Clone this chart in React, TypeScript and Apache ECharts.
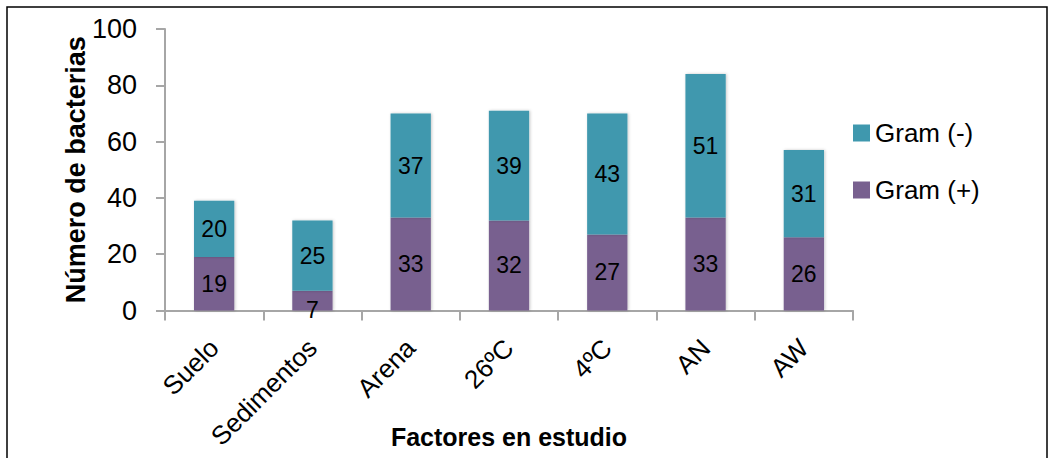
import React, { useEffect, useRef } from "react";
import * as echarts from "echarts";

const categories = ["Suelo", "Sedimentos", "Arena", "26ºC", "4ºC", "AN", "AW"];
const gramPos = [19, 7, 33, 32, 27, 33, 26];
const gramNeg = [20, 25, 37, 39, 43, 51, 31];
const seriesNames = ["Gram (+)", "Gram (-)"];
const yTicks = [0, 20, 40, 60, 80, 100];

const FONT = "'Liberation Sans', Arial, sans-serif";

export default function App() {
  const ref = useRef<HTMLDivElement>(null);
  useEffect(() => {
    if (!ref.current) return;
    const chart = echarts.init(ref.current, undefined, { renderer: "svg" });
    const labelStyle = {
      show: true,
      position: "inside" as const,
      color: "#000",
      fontFamily: FONT,
      fontSize: 23,
    };
    // small values: label drops below the short segment, as in the original
    const posData = gramPos.map((v) =>
      v < 10 ? { value: v, label: { offset: [0, 9] } } : v
    );
    chart.setOption({
      animation: false,
      graphic: [
        {
          type: "rect",
          shape: { x: 7, y: 7, width: 1040, height: 470 },
          style: { fill: "none", stroke: "#000", lineWidth: 1.5 },
          silent: true,
        },
      ],
      grid: {
        left: 165,
        right: 197,
        top: 29,
        bottom: 147.5,
        containLabel: false,
        outerBoundsMode: "none",
      },
      legend: {
        orient: "vertical",
        left: 853,
        top: 120,
        padding: 0,
        itemWidth: 17,
        itemHeight: 17,
        itemGap: 31,
        itemTextGap: 7,
        icon: "rect",
        data: [seriesNames[1], seriesNames[0]],
        textStyle: { fontFamily: FONT, fontSize: 26, color: "#000" },
      },
      xAxis: {
        type: "category",
        data: categories,
        axisLine: { lineStyle: { color: "#a6a6a6", width: 2 } },
        axisTick: { show: true, length: 10, lineStyle: { color: "#a6a6a6", width: 2 } },
        axisLabel: {
          rotate: 45,
          margin: 33,
          color: "#000",
          fontFamily: FONT,
          fontSize: 26,
          interval: 0,
        },
        name: "Factores en estudio",
        nameLocation: "middle",
        nameGap: 114,
        nameMoveOverlap: false,
        nameTextStyle: { fontFamily: FONT, fontSize: 25, fontWeight: "bold", color: "#000" },
      },
      yAxis: {
        type: "value",
        min: yTicks[0],
        max: yTicks[yTicks.length - 1],
        interval: 20,
        splitLine: { show: false },
        axisLine: { show: true, lineStyle: { color: "#a6a6a6", width: 2 } },
        axisTick: { show: true, length: 9, lineStyle: { color: "#a6a6a6", width: 2 } },
        axisLabel: { margin: 28, color: "#000", fontFamily: FONT, fontSize: 27 },
        name: "Número de bacterias",
        nameLocation: "middle",
        nameRotate: 90,
        nameGap: 76,
        nameMoveOverlap: false,
        nameTextStyle: { fontFamily: FONT, fontSize: 27, fontWeight: "bold", color: "#000" },
      },
      series: [
        {
          name: seriesNames[0],
          type: "bar",
          stack: "total",
          data: posData,
          barWidth: "41%",
          itemStyle: {
            color: "#78608F",
            shadowColor: "rgba(0,0,0,0.22)",
            shadowBlur: 3,
            shadowOffsetX: 1,
          },
          label: labelStyle,
        },
        {
          name: seriesNames[1],
          type: "bar",
          stack: "total",
          data: gramNeg,
          barWidth: "41%",
          itemStyle: {
            color: "#3F98AE",
            shadowColor: "rgba(0,0,0,0.22)",
            shadowBlur: 3,
            shadowOffsetX: 1,
          },
          label: labelStyle,
        },
      ],
    });
    return () => chart.dispose();
  }, []);
  return (
    <div
      ref={ref}
      style={{ position: "fixed", left: 0, top: 0, width: 1050, height: 458, background: "#fff" }}
    />
  );
}
